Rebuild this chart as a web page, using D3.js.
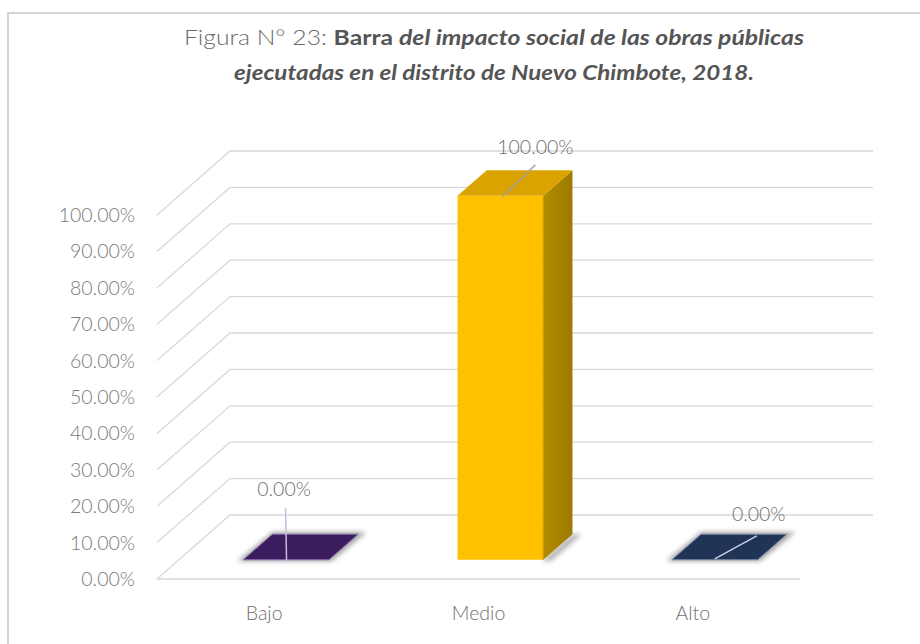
<!DOCTYPE html>
<html>
<head>
<meta charset="utf-8">
<script src="https://cdn.jsdelivr.net/npm/d3@7"></script>
<style>
  html, body { margin: 0; padding: 0; background: #ffffff; }
  svg { display: block; }
</style>
</head>
<body>
<svg id="chart" width="920" height="644"></svg>
<script>
// ---- data ----
const categories = ["Bajo", "Medio", "Alto"];
const values = [0.0, 1.0, 0.0];
const valueLabels = ["0.00%", "100.00%", "0.00%"];
const tickValues = [0, 0.1, 0.2, 0.3, 0.4, 0.5, 0.6, 0.7, 0.8, 0.9, 1.0];
const titleLine1 = [
  { text: "Figura N° 23: ", weight: 300, style: "normal" },
  { text: "Barra ", weight: 700, style: "normal" },
  { text: "del impacto social de las obras públicas", weight: 700, style: "italic" }
];
const titleLine2 = "ejecutadas en el distrito de Nuevo Chimbote, 2018.";

// ---- layout / style ----
const FONT = "Lato, 'Open Sans', sans-serif";
const floorLeft = 157, floorRight = 800, floorY = 579;
const plotH = 364;
const depthX = 73, depthY = -64;
const barD0 = 0.3, barD1 = 0.7, barWidthFrac = 0.4;
const barColors = [
  { front: "#3b1c5e", top: "#3b1c5e", side: "#2a1245", edge: "#8a70b0", leader: "#c9bde0" },
  { front: "#ffc000", top: "#dba300", side: "#a98300", edge: "#c89a00", leader: "#a0a0a0" },
  { front: "#1f3457", top: "#1f3457", side: "#14233d", edge: "#7d8aa3", leader: "#c8d0de" }
];
// label offsets relative to bar top-centre (style)
const labelCfg = [
  { lx0: -0.5, ly0: -52, lx1: 0.5, ly1: 2, tx: -2, ty: -71 },
  { lx0: 2, ly0: 1, lx1: 35, ly1: -31, tx: 35, ty: -49 },
  { lx0: 0, ly0: -1, lx1: 42, ly1: -24, tx: 44, ty: -46 }
];

const svg = d3.select("#chart");

// frame
svg.append("rect").attr("x", 8).attr("y", 13).attr("width", 940).attr("height", 660)
  .attr("fill", "#ffffff").attr("stroke", "#d4d4d4").attr("stroke-width", 2);

// shadow filter
const defs = svg.append("defs");
const f = defs.append("filter").attr("id", "blur").attr("x", "-30%").attr("y", "-60%").attr("width", "160%").attr("height", "220%");
f.append("feGaussianBlur").attr("stdDeviation", 2.5);
const sideGrad = defs.append("linearGradient").attr("id", "sideGrad").attr("x1", "0").attr("y1", "0").attr("x2", "1").attr("y2", "0");
sideGrad.append("stop").attr("offset", "0").attr("stop-color", "#b38b00");
sideGrad.append("stop").attr("offset", "1").attr("stop-color", "#9c7a00");

const x = d3.scaleBand().domain(categories).range([floorLeft, floorRight]).paddingInner(0).paddingOuter(0);
const y = d3.scaleLinear().domain([0, 1]).range([floorY, floorY - plotH]);

function P(px, v, d) { return [px + d * depthX, y(v) + d * depthY]; }
const line = d3.line();

// ---- gridlines (side wall + back wall) ----
const grid = svg.append("g");
tickValues.forEach(t => {
  const a = P(floorLeft, t, 0), b = P(floorLeft, t, 1), c = P(floorRight, t, 1);
  grid.append("path").attr("d", line([a, b, c])).attr("fill", "none")
    .attr("stroke", "#d9d9d9").attr("stroke-width", 1.3);
});
// floor front edge
grid.append("path").attr("d", line([P(floorLeft, 0, 0), P(floorRight, 0, 0)]))
  .attr("fill", "none").attr("stroke", "#d9d9d9").attr("stroke-width", 1.3);

// ---- y axis labels ----
svg.append("g").selectAll("text").data(tickValues).join("text")
  .attr("x", 135).attr("y", d => y(d))
  .attr("dy", "0.36em")
  .attr("text-anchor", "end")
  .attr("font-family", FONT).attr("font-weight", 300)
  .attr("font-size", 19.5).attr("fill", "#7a7a7a")
  .text(d => d3.format(".2%")(d));

// ---- category labels ----
svg.append("g").selectAll("text").data(categories).join("text")
  .attr("x", d => x(d) + x.bandwidth() / 2).attr("y", floorY + 34)
  .attr("dy", "0.36em").attr("text-anchor", "middle")
  .attr("font-family", FONT).attr("font-weight", 300)
  .attr("font-size", 19.5).attr("fill", "#707070")
  .text(d => d);

// ---- bars ----
const bars = svg.append("g");
categories.forEach((cat, i) => {
  const v = values[i];
  const cx = x(cat) + x.bandwidth() / 2;
  const w = x.bandwidth() * barWidthFrac;
  const xl = cx - w / 2, xr = cx + w / 2;
  const col = barColors[i];
  const g = bars.append("g");
  const topFace = [P(xl, v, barD0), P(xr, v, barD0), P(xr, v, barD1), P(xl, v, barD1)];
  if (v > 0) {
    // shadow on floor
    g.append("path").attr("d", line([P(xr, 0, barD0 - 0.02), P(xr + 9, 0, barD0 - 0.02), P(xr + 9, 0, barD1), P(xr, 0, barD1)]) + "Z")
      .attr("fill", "#8a8a8a").attr("opacity", 0.7).attr("filter", "url(#blur)");
    const front = [P(xl, 0, barD0), P(xr, 0, barD0), P(xr, v, barD0), P(xl, v, barD0)];
    const side = [P(xr, 0, barD0), P(xr, 0, barD1), P(xr, v, barD1), P(xr, v, barD0)];
    g.append("path").attr("d", line(side) + "Z").attr("fill", "url(#sideGrad)");
    g.append("path").attr("d", line(front) + "Z").attr("fill", col.front);
    g.append("path").attr("d", line(topFace) + "Z").attr("fill", col.top);
    g.append("path").attr("d", line([P(xr, 0, barD0), P(xr, v, barD0)])).attr("stroke", "#c99700").attr("stroke-width", 1);
  } else {
    const sh = [P(xl - 4, v, barD0 - 0.02), P(xr + 4, v, barD0 - 0.02), P(xr + 6, v, barD1 + 0.03), P(xl - 2, v, barD1 + 0.03)];
    g.append("path").attr("d", line(sh) + "Z").attr("fill", "#808080").attr("opacity", 0.75).attr("filter", "url(#blur)");
    g.append("path").attr("d", line(topFace) + "Z").attr("fill", col.top)
      .attr("stroke", col.edge).attr("stroke-width", 1);
  }
});

// ---- data labels with leader lines ----
const lab = svg.append("g");
categories.forEach((cat, i) => {
  const v = values[i];
  const cx = x(cat) + x.bandwidth() / 2;
  const base = P(cx, v, barD0);
  const c = labelCfg[i];
  lab.append("line")
    .attr("x1", base[0] + c.lx0).attr("y1", base[1] + c.ly0)
    .attr("x2", base[0] + c.lx1).attr("y2", base[1] + c.ly1)
    .attr("stroke", barColors[i].leader).attr("stroke-width", 1.5);
  lab.append("text")
    .attr("x", base[0] + c.tx).attr("y", base[1] + c.ty)
    .attr("dy", "0.36em").attr("text-anchor", "middle")
    .attr("font-family", FONT).attr("font-weight", 300)
    .attr("font-size", 19.5).attr("fill", "#6f6f6f")
    .text(valueLabels[i]);
});

// ---- title ----
const t1 = svg.append("text").attr("x", 494).attr("y", 45).attr("text-anchor", "middle")
  .attr("font-family", FONT).attr("font-size", 21).attr("fill", "#5f5f5f");
titleLine1.forEach(s => {
  t1.append("tspan").attr("font-weight", s.weight).attr("font-style", s.style)
    .attr("fill", s.weight === 300 ? "#6a6a6a" : "#555555").text(s.text);
});
t1.attr("textLength", 620).attr("lengthAdjust", "spacingAndGlyphs");
svg.append("text").attr("x", 494).attr("y", 80).attr("text-anchor", "middle")
  .attr("font-family", FONT).attr("font-size", 21).attr("font-weight", 700)
  .attr("font-style", "italic").attr("fill", "#555555")
  .attr("textLength", 520).attr("lengthAdjust", "spacingAndGlyphs")
  .text(titleLine2);
</script>
</body>
</html>
